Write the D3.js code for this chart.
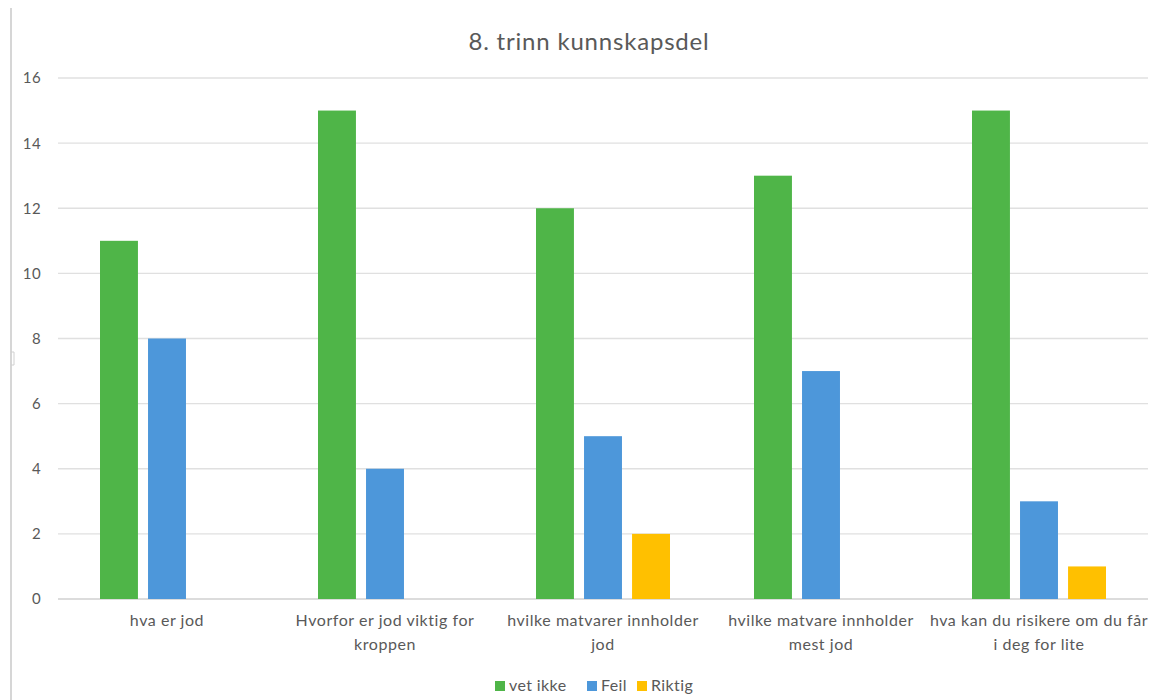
<!DOCTYPE html>
<html>
<head>
<meta charset="utf-8">
<script src="https://cdn.jsdelivr.net/npm/d3@7"></script>
<style>
  html, body { margin: 0; padding: 0; background: #fff; }
  svg { display: block; font-family: Lato, "Open Sans", sans-serif; }
</style>
</head>
<body>
<svg id="chart" width="1158" height="700"></svg>
<script>
const categories = [
  "hva er jod",
  "Hvorfor er jod viktig for kroppen",
  "hvilke matvarer innholder jod",
  "hvilke matvare innholder mest jod",
  "hva kan du risikere om du får i deg for lite"
];
// tick labels as they are broken into lines in the chart
const categoryLabelLines = [
  ["hva er jod"],
  ["Hvorfor er jod viktig for", "kroppen"],
  ["hvilke matvarer innholder", "jod"],
  ["hvilke matvare innholder", "mest jod"],
  ["hva kan du risikere om du får", "i deg for lite"]
];
const seriesNames = ["vet ikke", "Feil", "Riktig"];
const vetIkke = [11, 15, 12, 13, 15];
const feil = [8, 4, 5, 7, 3];
const riktig = [0, 0, 2, 0, 1];
const yTicks = [0, 2, 4, 6, 8, 10, 12, 14, 16];
const title = "8. trinn kunnskapsdel";

const colors = ["#4FB548", "#4D97DA", "#FFC000"];
const seriesValues = [vetIkke, feil, riktig];
const textColor = "#595959";

const svg = d3.select("#chart");
const plotL = 58, plotR = 1148, plotT = 78, plotB = 599;

// left frame line and small handle
svg.append("line").attr("x1", 11).attr("x2", 11).attr("y1", 8).attr("y2", 700)
  .attr("stroke", "#c8c8c8").attr("stroke-width", 1.5);
svg.append("path").attr("d", "M11,352 L14,352 L14,365 L11,365")
  .attr("fill", "none").attr("stroke", "#d0d0d0").attr("stroke-width", 1);

const x0 = d3.scaleBand().domain(categories).range([plotL, plotR]).paddingInner(0).paddingOuter(0);
const x1 = d3.scaleBand().domain(seriesNames).range([42, 218 - 42]).paddingInner(0.21).paddingOuter(0);
const y = d3.scaleLinear().domain([0, 16]).range([plotB, plotT]);

// gridlines
svg.append("g").selectAll("line").data(yTicks).join("line")
  .attr("x1", plotL).attr("x2", plotR)
  .attr("y1", d => y(d)).attr("y2", d => y(d))
  .attr("stroke", d => d === 0 ? "#d0d0d0" : "#e0e0e0").attr("stroke-width", 1.3);

// y axis labels
svg.append("g").selectAll("text").data(yTicks).join("text")
  .attr("x", 41).attr("y", d => y(d)).attr("dy", "0.36em")
  .attr("text-anchor", "end").attr("font-size", 15).attr("letter-spacing", 0.4)
  .attr("fill", textColor)
  .text(d => d);

// bars
const groups = svg.append("g").selectAll("g").data(categories).join("g")
  .attr("transform", d => `translate(${x0(d)},0)`);
groups.selectAll("rect").data((c, i) => seriesNames.map((s, j) => ({s, j, v: seriesValues[j][i]})).filter(d => d.v > 0))
  .join("rect")
  .attr("x", d => x1(d.s)).attr("width", x1.bandwidth())
  .attr("y", d => y(d.v)).attr("height", d => y(0) - y(d.v))
  .attr("fill", d => colors[d.j]);

// category labels
const catG = svg.append("g");
categories.forEach((c, ci) => {
  const cx = x0(c) + x0.bandwidth() / 2;
  const t = catG.append("text").attr("x", cx).attr("y", 626)
    .attr("text-anchor", "middle").attr("font-size", 16).attr("letter-spacing", 0.55)
    .attr("fill", textColor);
  categoryLabelLines[ci].forEach((l, i) => t.append("tspan").attr("x", cx).attr("dy", i ? 24 : 0).text(l));
});

// title
svg.append("text").attr("x", 589).attr("y", 50).attr("text-anchor", "middle")
  .attr("font-size", 24).attr("letter-spacing", 0.8).attr("fill", textColor).text(title);

// legend
const legendX = [495, 587, 637];
const lg = svg.append("g");
seriesNames.forEach((s, i) => {
  lg.append("rect").attr("x", legendX[i]).attr("y", 681).attr("width", 10).attr("height", 10).attr("fill", colors[i]);
  lg.append("text").attr("x", legendX[i] + 14).attr("y", 691).attr("font-size", 16)
    .attr("letter-spacing", 0.4).attr("fill", textColor).text(s);
});
</script>
</body>
</html>
